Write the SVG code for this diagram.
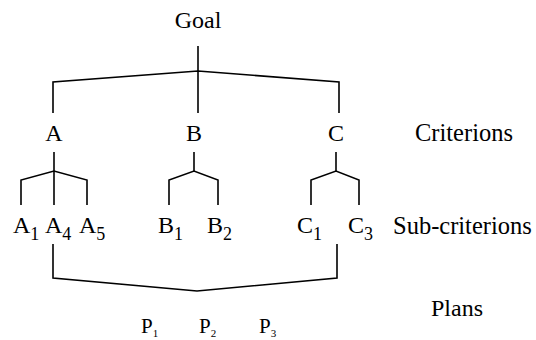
<svg xmlns="http://www.w3.org/2000/svg" width="536" height="340" viewBox="0 0 536 340">
<style>
text{font-family:"Liberation Serif","Times New Roman",serif;fill:#000;font-size:24px}
.m{text-anchor:middle}
.s{font-size:18px}
.p{font-size:21px}
.ps{font-size:11px}
.c{fill:none;stroke:#000;stroke-width:1.6;stroke-linejoin:miter}
</style>
<rect width="536" height="340" fill="#fff"/>
<g id="connectors">
<path class="c" d="M198,46V113"/>
<path class="c" d="M53,113V82L198,71L339,82V113"/>
<path class="c" d="M54,152V205"/>
<path class="c" d="M21,205V180L54,171L87,180V205"/>
<path class="c" d="M194,152V171"/>
<path class="c" d="M169,205V180L194,171L218,180V205"/>
<path class="c" d="M336,152V171"/>
<path class="c" d="M311,205V180L336,171L359,180V205"/>
<path class="c" d="M53,244V278L197,291L337,278V244"/>
</g>
<g id="goal"><text class="m" x="198" y="28">Goal</text></g>
<g id="A"><text class="m" x="54" y="141">A</text></g>
<g id="B"><text class="m" x="194" y="141">B</text></g>
<g id="C"><text class="m" x="336" y="141">C</text></g>
<g id="criterions"><text x="415" y="141" style="font-size:24.5px">Criterions</text></g>
<g id="A1"><text x="13" y="233">A<tspan class="s" dy="7">1</tspan></text></g>
<g id="A4"><text x="45" y="233">A<tspan class="s" dy="7">4</tspan></text></g>
<g id="A5"><text x="79" y="233">A<tspan class="s" dy="7">5</tspan></text></g>
<g id="B1"><text x="158" y="233">B<tspan class="s" dy="7">1</tspan></text></g>
<g id="B2"><text x="207" y="233">B<tspan class="s" dy="7">2</tspan></text></g>
<g id="C1"><text x="297" y="233">C<tspan class="s" dy="7">1</tspan></text></g>
<g id="C3"><text x="348" y="233">C<tspan class="s" dy="7">3</tspan></text></g>
<g id="subcriterions"><text x="393" y="234" style="font-size:24.5px">Sub-criterions</text></g>
<g id="plans"><text x="431" y="316">Plans</text></g>
<g id="P1"><text class="p" x="141" y="333">P<tspan class="ps" dy="4">1</tspan></text></g>
<g id="P2"><text class="p" x="199" y="333">P<tspan class="ps" dy="4">2</tspan></text></g>
<g id="P3"><text class="p" x="259" y="333">P<tspan class="ps" dy="4">3</tspan></text></g>
</svg>
